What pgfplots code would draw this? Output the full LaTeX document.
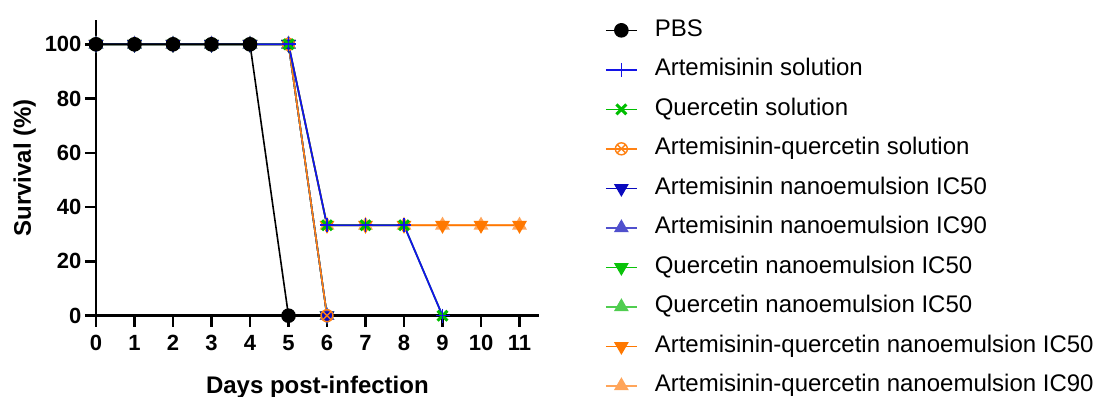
\documentclass[border=0pt]{standalone}
\usepackage{pgfplots}
\pgfplotsset{compat=1.18}
\usepackage{fontspec}
\setmainfont{Liberation Sans}
\definecolor{cBlue}{RGB}{20,20,230}
\definecolor{cBlueD}{RGB}{10,10,190}
\definecolor{cBlueL}{RGB}{80,80,205}
\definecolor{cGreen}{RGB}{0,190,0}
\definecolor{cGreenD}{RGB}{10,195,10}
\definecolor{cGreenL}{RGB}{80,205,80}
\definecolor{cOrange}{RGB}{255,130,20}
\definecolor{cOrangeD}{RGB}{255,120,0}
\definecolor{cOrangeL}{RGB}{255,165,90}
\begin{document}
\begin{tikzpicture}
\begin{axis}[
  anchor=origin, at={(0pt,0pt)},
  scale only axis,
  x=38.5pt, y=2.714pt,
  xmin=0, xmax=11.5, ymin=0, ymax=109,
  axis lines=left,
  axis line style={line width=2.6pt, -},
  clip=false,
  xtick={0,1,2,3,4,5,6,7,8,9,10,11},
  ytick={0,20,40,60,80,100},
  tick align=outside,
  major tick length=11pt,
  tick style={line width=2.6pt, black},
  /pgf/number format/assume math mode=true,
  ticklabel style={font=\bfseries\fontsize{22}{26}\selectfont},
  xticklabel style={yshift=-5pt},
  xlabel={\bfseries Days post-infection},
  ylabel={\bfseries Survival (\%)},
  label style={font=\bfseries\fontsize{24}{28}\selectfont},
  xlabel style={yshift=-18pt},
  ylabel style={yshift=2pt},
  reverse legend,
  legend image code/.code={\draw[mark repeat=2,mark phase=2,#1] plot coordinates {(0pt,0pt) (15.5pt,0pt) (31pt,0pt)};},
  legend style={draw=none, fill=none, at={(axis cs:13.22,109.2)}, anchor=north west,
    inner sep=0pt, outer sep=0pt, font=\fontsize{24}{28}\selectfont,
    cells={anchor=west}, row sep=17.5pt, column sep=17pt,
    nodes={inner sep=0pt, text height=17pt, text depth=5pt}},
]
% AQ NE IC90
\addplot[color=cOrangeL, line width=1.6pt, mark=triangle*, mark size=7pt, mark options={solid, fill=cOrangeL}] coordinates {(0,100)(1,100)(2,100)(3,100)(4,100)(5,100)(6,33.33)(7,33.33)(8,33.33)(9,33.33)(10,33.33)(11,33.33)};
\addlegendentry{Artemisinin-quercetin nanoemulsion IC90}
% AQ NE IC50
\addplot[color=cOrangeD, line width=1.6pt, mark=triangle*, mark size=7pt, mark options={solid, fill=cOrangeD, rotate=180}] coordinates {(0,100)(1,100)(2,100)(3,100)(4,100)(5,100)(6,33.33)(7,33.33)(8,33.33)(9,33.33)(10,33.33)(11,33.33)};
\addlegendentry{Artemisinin-quercetin nanoemulsion IC50}
% Q NE IC50 (2)
\addplot[color=cGreenL, line width=1.6pt, mark=triangle*, mark size=7pt, mark options={solid, fill=cGreenL}] coordinates {(0,100)(1,100)(2,100)(3,100)(4,100)(5,100)(6,0)};
\addlegendentry{Quercetin nanoemulsion IC50}
% Q NE IC50
\addplot[color=cGreenD, line width=1.6pt, mark=triangle*, mark size=7pt, mark options={solid, fill=cGreenD, rotate=180}] coordinates {(0,100)(1,100)(2,100)(3,100)(4,100)(5,100)(6,0)};
\addlegendentry{Quercetin nanoemulsion IC50}
% A NE IC90
\addplot[color=cBlueL, line width=1.6pt, mark=triangle*, mark size=7pt, mark options={solid, fill=cBlueL}] coordinates {(0,100)(1,100)(2,100)(3,100)(4,100)(5,100)(6,0)};
\addlegendentry{Artemisinin nanoemulsion IC90}
% A NE IC50
\addplot[color=cBlueD, line width=1.6pt, mark=triangle*, mark size=7pt, mark options={solid, fill=cBlueD, rotate=180}] coordinates {(0,100)(1,100)(2,100)(3,100)(4,100)(5,100)(6,0)};
\addlegendentry{Artemisinin nanoemulsion IC50}
% AQ solution
\addplot[color=cOrange, line width=1.6pt, mark=otimes, mark size=6pt, mark options={solid, line width=1.4pt, fill opacity=0}] coordinates {(0,100)(1,100)(2,100)(3,100)(4,100)(5,100)(6,0)};
\addlegendentry{Artemisinin-quercetin solution}
% Q solution
\addplot[color=cGreen, line width=1.6pt, mark=x, mark size=7pt, mark options={solid, line width=3pt}] coordinates {(0,100)(1,100)(2,100)(3,100)(4,100)(5,100)(6,33.33)(7,33.33)(8,33.33)(9,0)};
\addlegendentry{Quercetin solution}
% A solution
\addplot[color=cBlue, line width=1.8pt, mark=+, mark size=7pt, mark options={solid, line width=1.6pt}] coordinates {(0,100)(1,100)(2,100)(3,100)(4,100)(5,100)(6,33.33)(7,33.33)(8,33.33)(9,0)};
\addlegendentry{Artemisinin solution}
% PBS
\addplot[color=black, line width=1.6pt, mark=*, mark size=6.5pt, mark options={solid, fill=black}] coordinates {(0,100)(1,100)(2,100)(3,100)(4,100)(5,0)};
\addlegendentry{PBS}
\end{axis}
\pgfresetboundingbox
\useasboundingbox (-96pt,-80.3pt) rectangle (1001pt,315.7pt);
\end{tikzpicture}
\end{document}
